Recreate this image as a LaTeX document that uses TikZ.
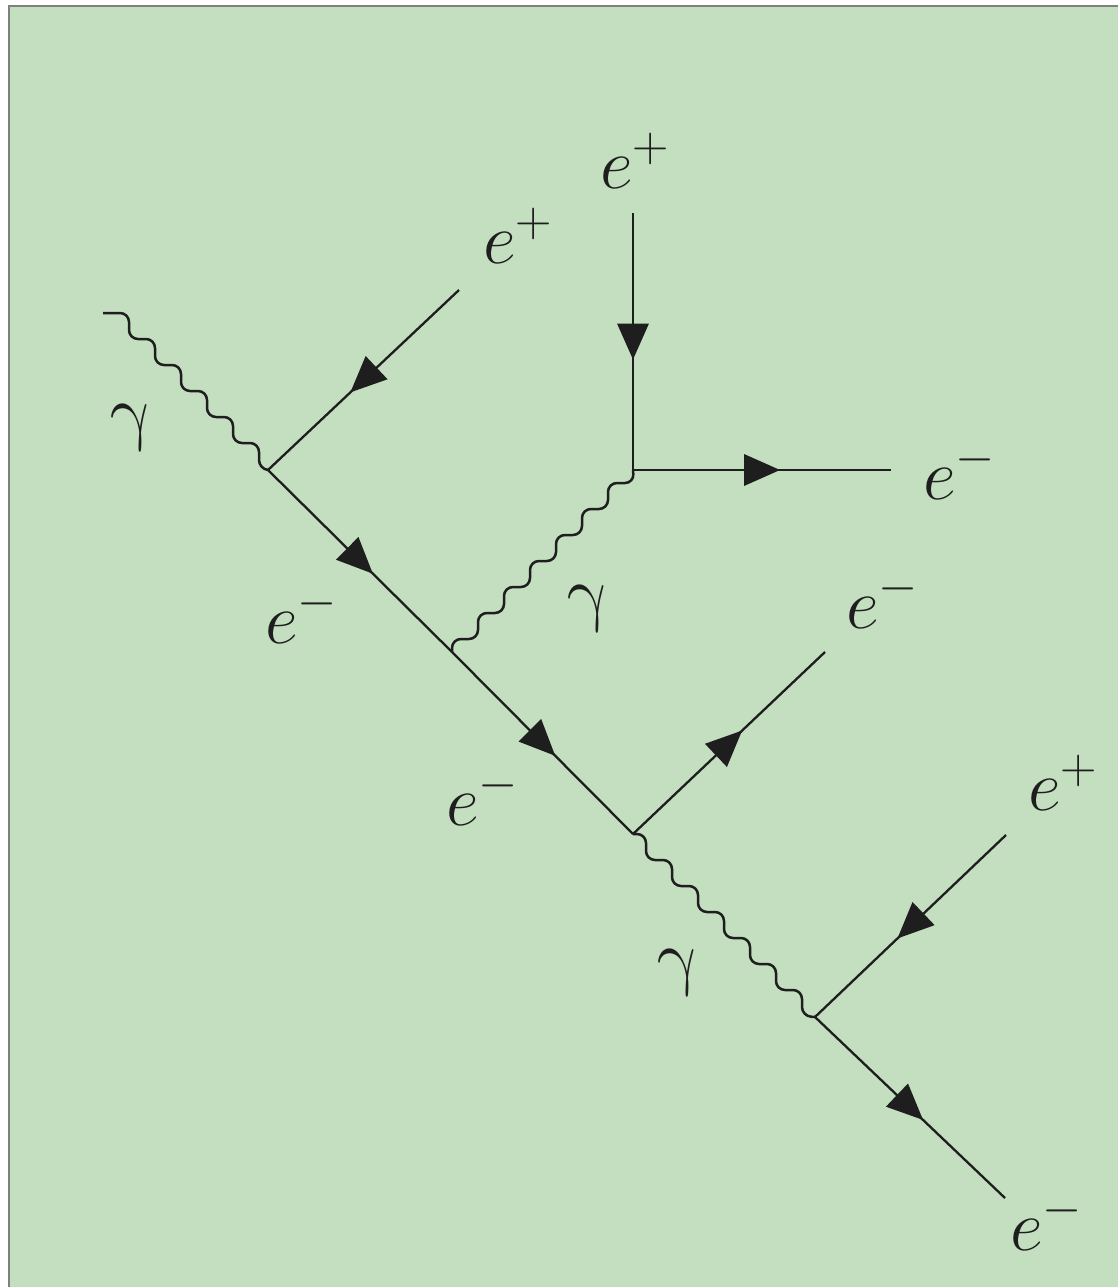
\documentclass[tikz,border=0pt]{standalone}
\usepackage{fix-cm}
\usetikzlibrary{decorations.markings}
\definecolor{bggreen}{RGB}{196,223,192}
\definecolor{framegray}{RGB}{128,128,128}
\definecolor{ink}{RGB}{30,30,30}
\tikzset{
  fermion/.style={draw=ink, line width=2.3pt,
    postaction={decorate, decoration={markings,
      mark=at position 0.5 with {\fill[ink] (18pt,0pt) -- (-18pt,16pt) -- (-18pt,-16pt) -- cycle;}}}},
  photon/.style={draw=ink, line width=2.5pt, rounded corners=9pt},
  lbl/.style={font=\fontsize{72}{80}\selectfont, inner sep=0pt, anchor=base west, text=ink},
  glbl/.style={font=\fontsize{74}{80}\selectfont, inner sep=0pt, anchor=center, text=ink, xslant=-0.22}
}
\begin{document}
\begin{tikzpicture}[x=1pt,y=-1pt]
\useasboundingbox (0,0) rectangle (1118,1287);
\fill[white] (0,0) rectangle (1118,1287);
\fill[bggreen] (9,6) rectangle (1118,1287);
\draw[framegray, line width=1.8pt] (9,1287) -- (9,6) -- (1118,6);

% vertices and free ends
\coordinate (v1) at (268,470);
\coordinate (v2) at (452,652);
\coordinate (v3) at (633,470);
\coordinate (v4) at (633,834);
\coordinate (v5) at (815,1017);
\coordinate (g0) at (103,313);
\coordinate (p1) at (459,290);
\coordinate (p2) at (633,213);
\coordinate (r3) at (891,470);
\coordinate (r4) at (825,652);
\coordinate (p5) at (1006,835);
\coordinate (r5) at (1005,1198);

% fermion lines
\draw[fermion] (p1) -- (v1);
\draw[fermion] (v1) -- (v2);
\draw[fermion] (v2) -- (v4);
\draw[fermion] (p2) -- (v3);
\draw[fermion] (v3) -- (r3);
\draw[fermion] (v4) -- (r4);
\draw[fermion] (p5) -- (v5);
\draw[fermion] (v5) -- (r5);

% photon lines
\draw[photon] (g0) -- ++(26,0)
  \foreach \i in {1,...,5}{ -- ++(0,26) -- ++(26,0) } -- ++(0,26) -- (v1);
\draw[photon] (v2) -- ++(0,-13)
  \foreach \i in {1,...,6}{ -- ++(26,0) -- ++(0,-26) } -- ++(26,0) -- (v3);
\draw[photon] (v4) -- ++(13,0)
  \foreach \i in {1,...,6}{ -- ++(0,26) -- ++(26,0) } -- ++(0,26) -- (v5);

% labels
\node[glbl] (lg1) at (133,428) {$\gamma$};
\node[glbl] (lg2) at (590,609) {$\gamma$};
\node[glbl] (lg3) at (680,973) {$\gamma$};
\node[lbl] (lp1) at (483,263) {$e^+$};
\node[lbl] (lp2) at (600,188) {$e^+$};
\node[lbl] (lr3) at (923,499) {$e^-$};
\node[lbl] (le1) at (265,643) {$e^-$};
\node[lbl] (lr4) at (846,628) {$e^-$};
\node[lbl] (le2) at (446,825) {$e^-$};
\node[lbl] (lp5) at (1028,810) {$e^+$};
\node[lbl] (lr5) at (1010,1250) {$e^-$};
\end{tikzpicture}
\end{document}
